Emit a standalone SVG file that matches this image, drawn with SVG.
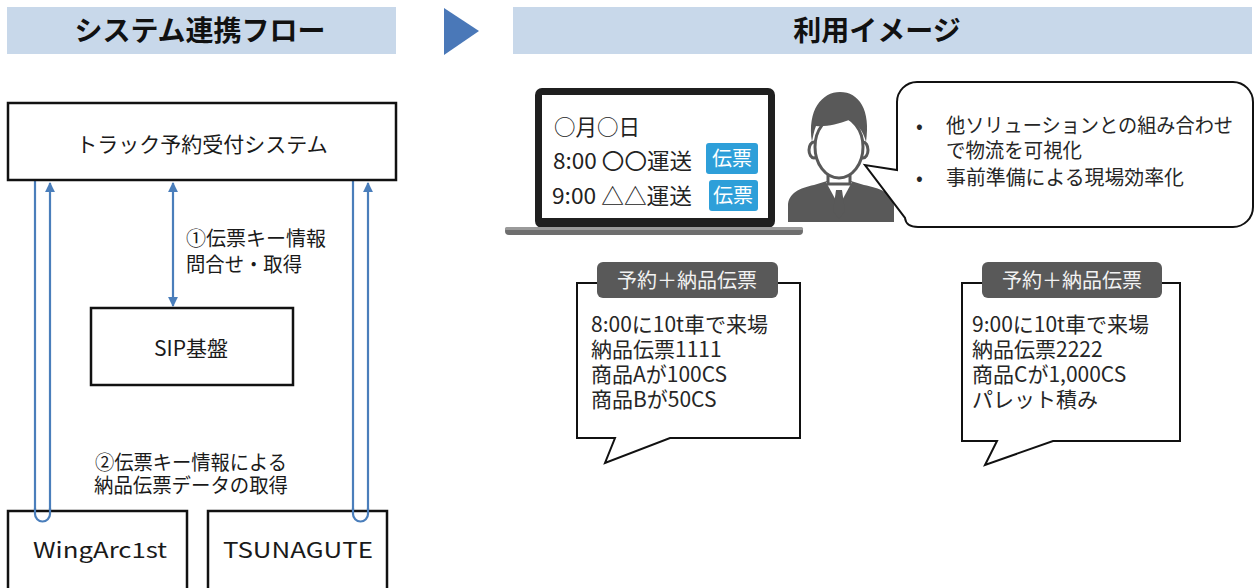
<svg xmlns="http://www.w3.org/2000/svg" width="1256" height="588" viewBox="0 0 1256 588">
  <style>
    text { font-family: "Noto Sans CJK JP", "Noto Sans", sans-serif; fill: #1a1a1a; }
    .title { font-size: 28px; font-weight: bold; fill: #111; }
    .band { fill: #c8d8ea; }
    .box { fill: #ffffff; stroke: #111; stroke-width: 2.5; }
    .lbl { font-size: 20px; }
    .node { font-size: 21px; text-anchor: middle; }
    .link { fill: none; stroke: #4a7ebb; stroke-width: 2.2; }
    .screen { font-size: 21.5px; fill: #222; }
    .btn { fill: #2e9fd9; }
    .btntxt { font-size: 20px; fill: #fff; text-anchor: middle; }
    .callout { fill: #fff; stroke: #111; stroke-width: 2; stroke-linejoin: miter; }
    .tab { fill: #595959; }
    .tabtxt { font-size: 20px; fill: #f2f2f2; text-anchor: middle; }
    .body { font-size: 21px; fill: #262626; }
    .bubble { font-size: 20px; fill: #262626; }
  </style>
  <defs>
    <marker id="head" viewBox="0 0 10 10" refX="9" refY="5" markerWidth="4.5" markerHeight="4.5" orient="auto-start-reverse" markerUnits="strokeWidth">
      <path d="M0,0 L10,5 L0,10 Z" fill="#4a7ebb"/>
    </marker>
  </defs>

  <rect width="1256" height="588" fill="#ffffff"/>

  <!-- section headers -->
  <g id="header-flow">
    <rect class="band" x="7" y="7" width="389" height="47"/>
    <text class="title" x="200" y="41" text-anchor="middle">システム連携フロー</text>
  </g>
  <polygon id="header-arrow" points="444,8 479,31 444,55" fill="#4a78b8"/>
  <g id="header-usage">
    <rect class="band" x="513" y="7" width="739" height="47"/>
    <text class="title" x="877" y="41" text-anchor="middle">利用イメージ</text>
  </g>

  <!-- connectors -->
  <g id="connectors">
    <path class="link" d="M35,181 V514 A7.5,7.5 0 0 0 50,514 V183" marker-end="url(#head)"/>
    <path class="link" d="M353,181 V514 A7.5,7.5 0 0 0 368,514 V183" marker-end="url(#head)"/>
    <path class="link" d="M173,183 V306" marker-start="url(#head)" marker-end="url(#head)"/>
    <text class="lbl"><tspan x="186" y="246">①伝票キー情報</tspan><tspan x="186" y="272" textLength="116" lengthAdjust="spacingAndGlyphs">問合せ・取得</tspan></text>
    <text class="lbl"><tspan x="95" y="470" textLength="192" lengthAdjust="spacingAndGlyphs">②伝票キー情報による</tspan><tspan x="94" y="493" textLength="194" lengthAdjust="spacingAndGlyphs">納品伝票データの取得</tspan></text>
  </g>

  <!-- flow nodes -->
  <g id="node-truck">
    <rect class="box" x="8" y="103" width="388" height="77" stroke-width="3"/>
    <text class="node" x="202" y="152">トラック予約受付システム</text>
  </g>
  <g id="node-sip">
    <rect class="box" x="91" y="308" width="202" height="77"/>
    <text class="node" x="191" y="356" font-size="25">SIP基盤</text>
  </g>
  <g id="node-wingarc">
    <rect class="box" x="8" y="511" width="179" height="90"/>
    <text class="node" x="100" y="558" font-size="24" textLength="134" lengthAdjust="spacingAndGlyphs">WingArc1st</text>
  </g>
  <g id="node-tsunagute">
    <rect class="box" x="208" y="511" width="179" height="90"/>
    <text class="node" x="298" y="558" font-size="24" textLength="150" lengthAdjust="spacingAndGlyphs">TSUNAGUTE</text>
  </g>
  <!-- U-turn ends drawn over box tops -->
  <g id="connector-ends">
    <path class="link" d="M35,508 V514 A7.5,7.5 0 0 0 50,514 V508"/>
    <path class="link" d="M353,508 V514 A7.5,7.5 0 0 0 368,514 V508"/>
  </g>

  <!-- laptop -->
  <g id="laptop">
    <rect x="535" y="88" width="240" height="140" rx="7" fill="#1f1f1f"/>
    <rect x="542" y="95" width="226" height="123" fill="#ffffff"/>
    <rect x="505" y="227" width="298" height="8" rx="4" fill="#6e6e6e"/>
    <rect x="505" y="227" width="298" height="3" rx="1.5" fill="#9a9a9a"/>
    <text class="screen" x="554" y="135">○月○日</text>
    <text class="screen" x="553" y="169" textLength="139" lengthAdjust="spacingAndGlyphs">8:00 〇〇運送</text>
    <text class="screen" x="552" y="204" textLength="140" lengthAdjust="spacingAndGlyphs">9:00 △△運送</text>
    <rect class="btn" x="706" y="143" width="52" height="31" rx="3"/>
    <text class="btntxt" x="732" y="166">伝票</text>
    <rect class="btn" x="709" y="180" width="49" height="31" rx="3"/>
    <text class="btntxt" x="733" y="203">伝票</text>
  </g>

  <!-- person icon -->
  <g id="person">
    <path d="M788,222 V206 C788,193 800,188 814,185 L827,181 H851 L864,185 C879,188 894,193 894,206 V222 Z" fill="#595959"/>
    <polygon points="826,182 852,182 839,206" fill="#ffffff"/>
    <polygon points="836,190 842,190 845,211 839,219 833,211" fill="#595959"/>
    <rect x="828" y="165" width="22" height="19" fill="#ffffff" stroke="#595959" stroke-width="3"/>
    <ellipse cx="814" cy="150" rx="5" ry="8" fill="#ffffff" stroke="#595959" stroke-width="3"/>
    <ellipse cx="863" cy="150" rx="5" ry="8" fill="#ffffff" stroke="#595959" stroke-width="3"/>
    <ellipse cx="839" cy="147" rx="24" ry="31" fill="#ffffff" stroke="#595959" stroke-width="3"/>
    <path d="M812,142 C807,110 822,92 840,92 C859,92 871,110 866,142 C863,130 857,124 849,120 C838,124 826,127 816,126 C814,131 813,136 812,142 Z" fill="#595959"/>
  </g>

  <!-- speech bubble -->
  <g id="speech">
    <path class="callout" d="M917,82 H1233 A20,20 0 0 1 1253,102 V207 A20,20 0 0 1 1233,227 H918 Q906,227 905,218 L865,165 L897,170 V102 A20,20 0 0 1 917,82 Z"/>
    <text class="bubble"><tspan x="916" y="133">•</tspan><tspan x="916" y="185">•</tspan></text>
    <text class="bubble"><tspan x="946" y="133" textLength="287" lengthAdjust="spacingAndGlyphs">他ソリューションとの組み合わせ</tspan><tspan x="946" y="158" textLength="136" lengthAdjust="spacingAndGlyphs">で物流を可視化</tspan><tspan x="946" y="185" textLength="238" lengthAdjust="spacingAndGlyphs">事前準備による現場効率化</tspan></text>
  </g>

  <!-- delivery slip callouts -->
  <g id="slip-1">
    <path class="callout" d="M577,283 H800 V438 H670 L605,463 L615,438 H577 Z"/>
    <rect class="tab" x="597" y="262" width="181" height="36" rx="6"/>
    <text class="tabtxt" x="687" y="288">予約＋納品伝票</text>
    <text class="body"><tspan x="591" y="332">8:00に10t車で来場</tspan><tspan x="591" y="357">納品伝票1111</tspan><tspan x="591" y="382">商品Aが100CS</tspan><tspan x="591" y="407">商品Bが50CS</tspan></text>
  </g>
  <g id="slip-2">
    <path class="callout" d="M962,283 H1180 V441 H1053 L985,465 L997,441 H962 Z"/>
    <rect class="tab" x="982" y="262" width="180" height="36" rx="6"/>
    <text class="tabtxt" x="1072" y="288">予約＋納品伝票</text>
    <text class="body"><tspan x="972" y="332">9:00に10t車で来場</tspan><tspan x="972" y="357">納品伝票2222</tspan><tspan x="972" y="382">商品Cが1,000CS</tspan><tspan x="972" y="407">パレット積み</tspan></text>
  </g>
</svg>
